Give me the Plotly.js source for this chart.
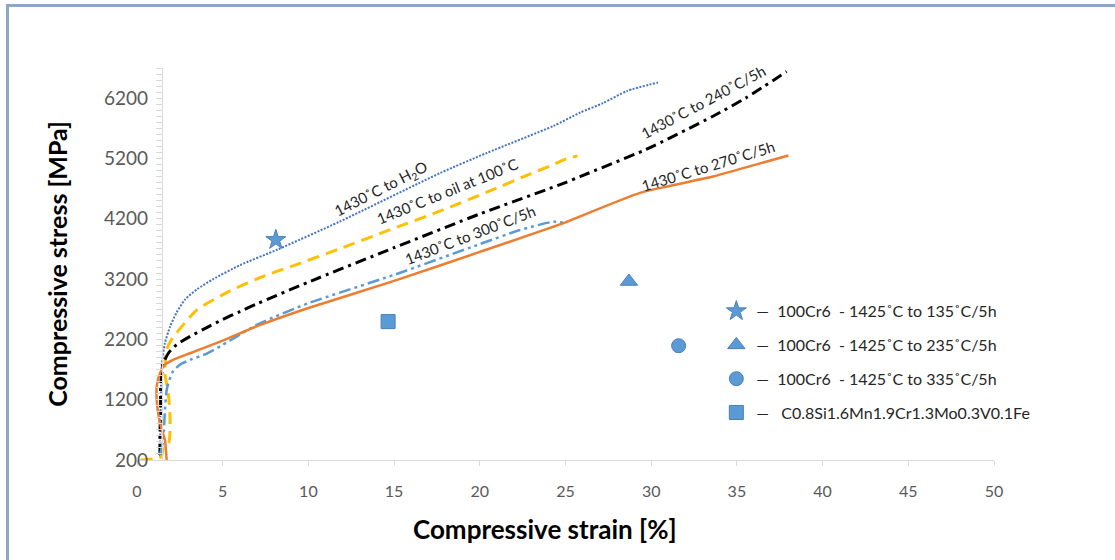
<!DOCTYPE html>
<html>
<head>
<meta charset="utf-8">
<script src="https://cdn.plot.ly/plotly-3.0.1.min.js"></script>
<style>
  html, body { margin: 0; padding: 0; background: #fff; }
  #chart { width: 1115px; height: 560px; }
  #frame { position: absolute; left: 6px; top: 4px; width: 1109px; height: 556px;
           border-top: 3px solid #8EA7C6; border-left: 3px solid #8EA7C6; pointer-events: none; box-sizing: border-box; }
</style>
</head>
<body>
<div id="chart"></div>
<div id="frame"></div>
<script>
// ---- Data (strain %, stress MPa) ----
const h2oStrain   = [1.34, 1.44, 1.63, 1.93, 2.3, 2.8, 3.5, 4.45, 6.0, 8.2, 11.8, 17.7, 20.4, 24.3, 25.85, 27.2, 28.6, 30.4];
const h2oStress   = [255, 1750, 2140, 2410, 2640, 2860, 3030, 3200, 3430, 3690, 4150, 4960, 5290, 5740, 5960, 6120, 6320, 6460];

const oilStrain   = [0.2, 1.4, 1.55, 1.85, 1.93, 1.83, 1.63, 1.73, 2.0, 3.5, 5.4, 7.4, 9.3, 11.8, 14.5, 17.7, 20.4, 23.0, 24.3, 25.0, 25.7];
const oilStress   = [200, 250, 420, 480, 860, 1300, 1640, 2030, 2190, 2690, 3000, 3250, 3440, 3700, 3990, 4330, 4640, 4950, 5100, 5190, 5240];

const t240Strain  = [1.34, 1.34, 1.38, 1.38, 1.53, 1.83, 2.3, 3.1, 4.1, 5.0, 6.0, 7.0, 10, 15, 20, 25, 25.85, 29.7, 33.6, 35.5, 37.9];
const t240Stress  = [283, 650, 1030, 1420, 1800, 1970, 2110, 2250, 2400, 2530, 2660, 2790, 3150, 3720, 4280, 4800, 4900, 5350, 5900, 6200, 6640];

const t300Strain  = [1.34, 1.53, 1.63, 1.73, 1.83, 2.1, 2.5, 3.1, 4.1, 5.0, 6.0, 7.2, 10, 15, 20, 22.3, 24.3, 25.0];
const t300Stress  = [283, 530, 1030, 1360, 1475, 1670, 1780, 1860, 1970, 2110, 2280, 2470, 2800, 3270, 3780, 4010, 4150, 4130];

const t270Strain  = [1.73, 1.63, 1.45, 1.25, 1.15, 1.15, 1.34, 1.63, 2.1, 3.1, 4.1, 5.0, 6.0, 7.2, 10, 15, 20, 25, 25.85, 29.35, 31, 33.6, 36, 38.0];
const t270Stress  = [200, 530, 700, 950, 1200, 1420, 1640, 1780, 1860, 1970, 2080, 2180, 2300, 2440, 2720, 3170, 3650, 4140, 4240, 4630, 4740, 4900, 5090, 5250];

const pointNames  = ["100Cr6\u00a0\u00a0- 1425˚C to 135˚C/5h", "100Cr6\u00a0\u00a0- 1425˚C to 235˚C/5h", "100Cr6\u00a0\u00a0- 1425˚C to 335˚C/5h", "C0.8Si1.6Mn1.9Cr1.3Mo0.3V0.1Fe"];
const pointStrain = [8.1, 28.7, 31.6, 14.65];
const pointStress = [3850, 3160, 2095, 2495];
const pointSymbols = ["star", "triangle-up", "circle", "square"];

const curveLabels = ["1430˚C to H<sub>2</sub>O", "1430˚C to oil at 100˚C", "1430˚C to 300˚C/5h", "1430˚C to 240˚C/5h", "1430˚C to 270˚C/5h"];

const font = "Lato, 'Open Sans', sans-serif";
const sm = {shape: 'spline', smoothing: 0.6};

const traces = [
  {x: h2oStrain, y: h2oStress, mode: 'lines', line: Object.assign({color: '#4472C4', width: 2, dash: '2px,1.5px'}, sm), showlegend: false},
  {x: oilStrain, y: oilStress, mode: 'lines', line: Object.assign({color: '#FFC000', width: 3, dash: '12px,7px'}, sm), showlegend: false},
  {x: t240Strain, y: t240Stress, mode: 'lines', line: Object.assign({color: '#000000', width: 3, dash: '11px,5px,3px,5px'}, sm), showlegend: false},
  {x: t300Strain, y: t300Stress, mode: 'lines', line: Object.assign({color: '#5B9BD5', width: 2.5, dash: '12px,4px,3px,4px,3px,4px'}, sm), showlegend: false},
  {x: t270Strain, y: t270Stress, mode: 'lines', line: Object.assign({color: '#ED7D31', width: 2.5}, sm), showlegend: false}
];

const markerSizes = [15, 15, 14, 14];
for (let i = 0; i < pointNames.length; i++) {
  const dash = i === 3 ? "—\u00a0\u00a0\u00a0" : "—\u00a0\u00a0";
  traces.push({
    x: [pointStrain[i]], y: [pointStress[i]], mode: 'markers', name: dash + pointNames[i],
    legendgroup: 'g' + i,
    marker: {symbol: pointSymbols[i], size: markerSizes[i], color: '#5B9BD5', line: {color: '#4A7EBB', width: 1}}
  });
}

const ann = [
  {x: 14.25, y: 4700, text: curveLabels[0], textangle: -27},
  {x: 18.1, y: 4660, text: curveLabels[1], textangle: -22},
  {x: 19.4, y: 3930, text: curveLabels[2], textangle: -21},
  {x: 33.0, y: 6140, text: curveLabels[3], textangle: -28},
  {x: 33.3, y: 5080, text: curveLabels[4], textangle: -17}
].map(a => Object.assign({xref: 'x', yref: 'y', showarrow: false, font: {family: font, size: 15, color: '#262626'}}, a));

ann.push({xref: 'paper', yref: 'paper', x: 0.476, y: -0.176, xanchor: 'center', yanchor: 'middle', showarrow: false,
          text: '<b>Compressive strain [%]</b>', font: {family: font, size: 26, color: '#000'}});

const layout = {
  width: 1115, height: 560,
  paper_bgcolor: '#ffffff', plot_bgcolor: '#ffffff',
  margin: {l: 137, r: 121, t: 68, b: 100},
  font: {family: font},
  showlegend: true,
  legend: {x: 0.676, y: 0.423, xanchor: 'left', yanchor: 'top', tracegroupgap: 10,
           font: {family: font, size: 16, color: '#262626'}, bgcolor: 'rgba(0,0,0,0)'},
  xaxis: {
    range: [0, 50], dtick: 5, tick0: 0, showgrid: false, zeroline: false,
    showline: true, linecolor: '#D9D9D9', linewidth: 1,
    ticks: 'outside', ticklen: 5, tickcolor: '#D9D9D9',
    ticklabelstandoff: 12,
    tickfont: {family: font, size: 16, color: '#595959'}
  },
  yaxis: {
    range: [200, 6700], dtick: 1000, tick0: 200, showgrid: false, zeroline: false,
    anchor: 'free', position: 0.029,
    showline: true, linecolor: '#D9D9D9', linewidth: 1,
    ticks: 'outside', ticklen: 6, tickcolor: '#D9D9D9',
    ticklabelstandoff: 4,
    minor: {dtick: 100, tick0: 200, ticks: 'outside', ticklen: 6, tickcolor: '#D9D9D9', showgrid: false},
    tickfont: {family: font, size: 19, color: '#595959'},
    title: {text: '<b>Compressive stress [MPa]</b>', font: {family: font, size: 25, color: '#000'}, standoff: 28}
  },
  annotations: ann
};

Plotly.newPlot('chart', traces, layout, {displayModeBar: false, staticPlot: true});
</script>
</body>
</html>
